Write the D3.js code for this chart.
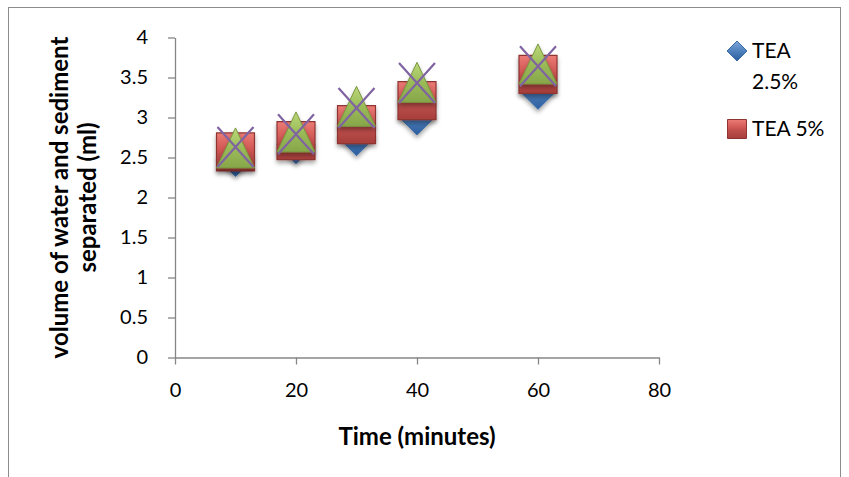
<!DOCTYPE html>
<html>
<head>
<meta charset="utf-8">
<script src="https://cdn.jsdelivr.net/npm/d3@7"></script>
<style>
  body { margin: 0; background: #fff; }
  text { font-family: Lato, "Open Sans", sans-serif; fill: #000; }
</style>
</head>
<body>
<div id="chart"></div>
<script>
//chart values
var times = [10, 20, 30, 40, 60];
var tea25 = [2.5, 2.66, 2.76, 3.02, 3.34];
var tea5 = [2.57, 2.71, 2.91, 3.21, 3.54];
var series3 = [2.62, 2.82, 3.14, 3.44, 3.67];
var series4 = [2.63, 2.79, 3.12, 3.43, 3.64];
var legendNames = ["TEA 2.5%", "TEA 5%"];
var xTicks = [0, 20, 40, 60, 80];
var yTicks = [0, 0.5, 1, 1.5, 2, 2.5, 3, 3.5, 4];

var W = 849, H = 477;
var plot = {left: 175, right: 659, top: 37.5, bottom: 357.5};

var x = d3.scaleLinear().domain([0, 80]).range([plot.left, plot.right]);
var y = d3.scaleLinear().domain([0, 4]).range([plot.bottom, plot.top]);

var svg = d3.select("#chart").append("svg")
	.attr("width", W)
	.attr("height", H);

var defs = svg.append("defs");

//soft shadow like the office markers
var f = defs.append("filter").attr("id", "shadow")
	.attr("x", "-30%").attr("y", "-30%").attr("width", "160%").attr("height", "170%");
f.append("feDropShadow").attr("dx", 0).attr("dy", 3).attr("stdDeviation", 2)
	.attr("flood-color", "#000").attr("flood-opacity", 0.35);

function grad(id, stops) {
	var g = defs.append("linearGradient").attr("id", id)
		.attr("x1", 0).attr("y1", 0).attr("x2", 0).attr("y2", 1);
	stops.forEach(function(s) {
		g.append("stop").attr("offset", s[0]).attr("stop-color", s[1]);
	});
}
grad("gBlue", [[0, "#7FA8DA"], [0.5, "#4F81BD"], [1, "#2D5E9E"]]);
grad("gRed", [[0, "#EC7B76"], [0.45, "#CF5652"], [0.55, "#C0504D"], [1, "#A63E3B"]]);
grad("gGreen", [[0, "#BCD97A"], [0.5, "#9BBB59"], [1, "#86A64A"]]);

//chart area border
svg.append("rect")
	.attr("x", 8.5).attr("y", 7.5)
	.attr("width", 832).attr("height", 500)
	.attr("fill", "none").attr("stroke", "#8c8c8c").attr("stroke-width", 1);

//axes
var yAxis = svg.append("g")
	.attr("transform", "translate(" + plot.left + ",0)")
	.call(d3.axisLeft(y).tickValues(yTicks).tickSize(7).tickSizeOuter(0).tickPadding(20)
		.tickFormat(function(d) { return String(d); }));
var xAxis = svg.append("g")
	.attr("transform", "translate(0," + plot.bottom + ")")
	.call(d3.axisBottom(x).tickValues(xTicks).tickSize(7).tickSizeOuter(0).tickPadding(18));

[xAxis, yAxis].forEach(function(a) {
	a.select(".domain").attr("stroke", "#868686").attr("stroke-width", 1.3);
	a.selectAll(".tick line").attr("stroke", "#868686").attr("stroke-width", 1.3);
	a.selectAll(".tick text").style("font-size", "20px").attr("fill", "#000")
		.style("font-family", "Lato, sans-serif");
});

//axis titles
svg.append("text")
	.attr("x", (plot.left + plot.right) / 2).attr("y", 445)
	.attr("text-anchor", "middle")
	.style("font-size", "24px").style("font-weight", "bold")
	.text("Time (minutes)");

var yt = svg.append("text")
	.attr("transform", "translate(0," + ((plot.top + plot.bottom) / 2) + ") rotate(-90)")
	.attr("text-anchor", "middle")
	.style("font-size", "24px").style("font-weight", "bold");
yt.append("tspan").attr("x", 0).attr("y", 68).text("volume of water and sediment");
yt.append("tspan").attr("x", 0).attr("y", 96).text("separated (ml)");

//marker shapes
var diamond = "M0,-19L19,0L0,19L-19,0Z";
var square = "M-19,-19H19V19H-19Z";
var triangle = "M0,-20L19,20H-19Z";
var cross = "M-18,-20L18,20M18,-20L-18,20";

function pts(vals) {
	return vals.map(function(v, i) { return {t: times[i], v: v}; });
}

function drawSeries(vals, path, fill, stroke, sw, shadow) {
	svg.append("g").selectAll("path")
		.data(pts(vals))
		.enter().append("path")
		.attr("transform", function(d) { return "translate(" + x(d.t) + "," + y(d.v) + ")"; })
		.attr("d", path)
		.attr("fill", fill)
		.attr("stroke", stroke)
		.attr("stroke-width", sw)
		.attr("filter", shadow ? "url(#shadow)" : null);
}

drawSeries(tea25, diamond, "url(#gBlue)", "#3A6CA8", 1, true);
drawSeries(tea5, square, "url(#gRed)", "#8E3532", 1.2, true);
drawSeries(series3, triangle, "url(#gGreen)", "#7A963F", 1, true);
drawSeries(series4, cross, "none", "#8064A2", 2.2, false);

//legend
var leg = svg.append("g");
leg.append("path")
	.attr("transform", "translate(737,51)")
	.attr("d", "M0,-10L10,0L0,10L-10,0Z")
	.attr("fill", "url(#gBlue)").attr("stroke", "#3A6CA8");
var lt = leg.append("text").style("font-size", "21px");
lt.append("tspan").attr("x", 752).attr("y", 58).text("TEA");
lt.append("tspan").attr("x", 752).attr("y", 89).text(legendNames[0].replace("TEA ", ""));

leg.append("path")
	.attr("transform", "translate(737,129)")
	.attr("d", "M-9.5,-9.5H9.5V9.5H-9.5Z")
	.attr("fill", "url(#gRed)").attr("stroke", "#8E3532");
leg.append("text").attr("x", 752).attr("y", 136).style("font-size", "21px")
	.text(legendNames[1]);
</script>
</body>
</html>
